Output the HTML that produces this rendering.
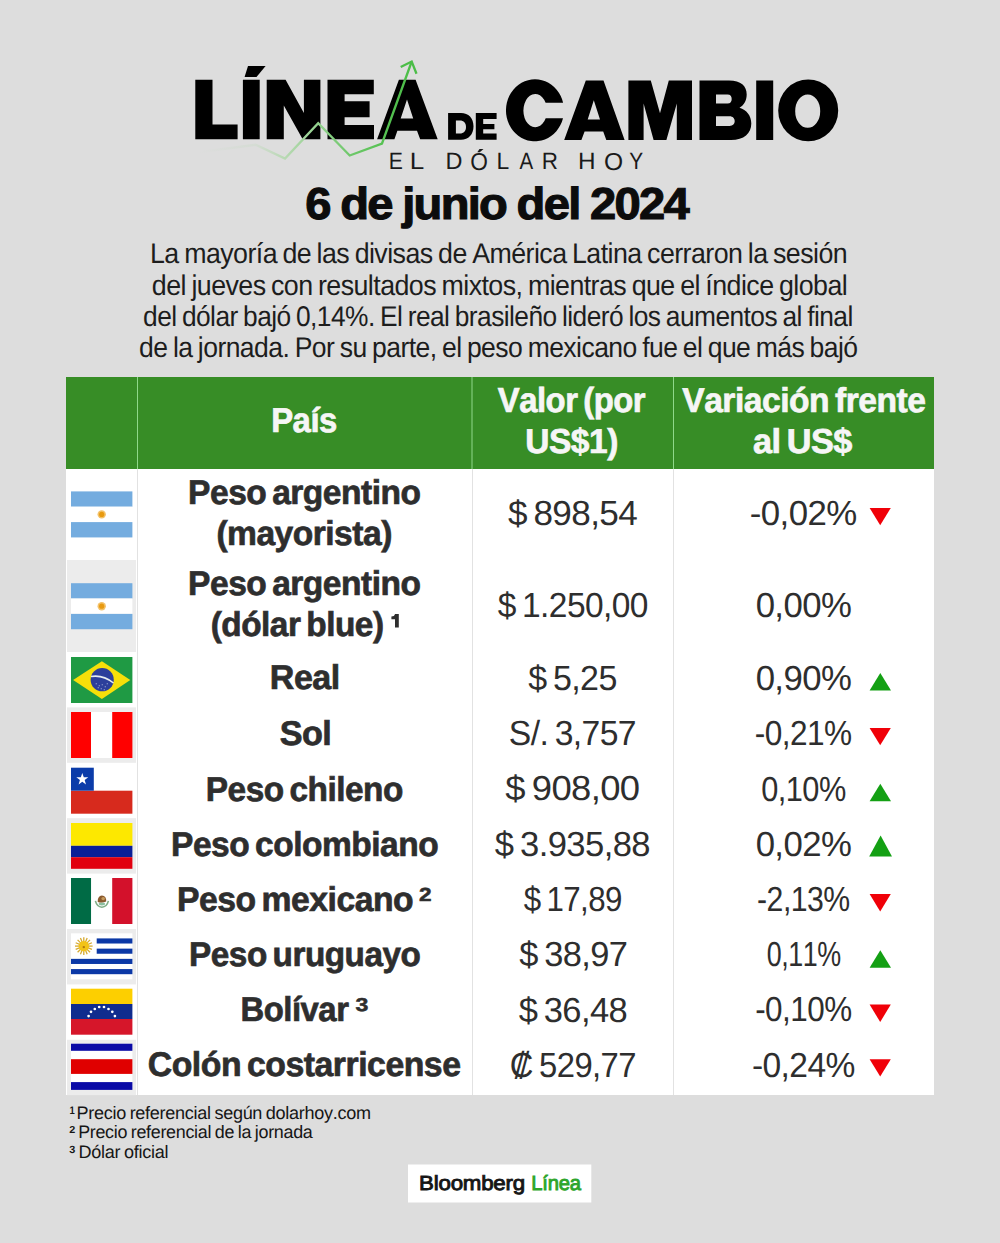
<!DOCTYPE html>
<html><head><meta charset="utf-8"><title>Línea de Cambio</title>
<style>
html,body{margin:0;padding:0;background:#dddddd;}
svg{display:block;font-family:"Liberation Sans",sans-serif;font-kerning:none;text-rendering:geometricPrecision;}
</style></head><body>
<svg width="1000" height="1243" viewBox="0 0 1000 1243">
<rect width="1000" height="1243" fill="#dddddd"/>
<polygon points="195.3,79.8 212.5,79.8 212.5,124.4 237.6,124.4 237.6,139.3 195.3,139.3" fill="#000000"/>
<polygon points="242.9,79.8 259.7,79.8 259.7,139.3 242.9,139.3" fill="#000000"/>
<polygon points="248,65.9 265.6,65.9 256.5,77.1 244.6,77.1" fill="#000000"/>
<polygon points="266.7,79.8 285.6,79.8 303.9,113.1 303.9,79.8 320.4,79.8 320.4,139.3 302.7,139.3 283.8,105.6 283.8,139.3 266.7,139.3" fill="#000000"/>
<polygon points="327.5,79.8 373.8,79.8 373.8,94.2 344.6,94.2 344.6,101.3 369.6,101.3 369.6,117.2 344.6,117.2 344.6,124.9 374.0,124.9 374.0,139.3 327.5,139.3" fill="#000000"/>
<path fill-rule="evenodd" fill="#000000" d="M398.9,79.8 L415.6,79.8 L437.7,139.3 L420.2,139.3 L417.0,130.8 L397.4,130.8 L394.4,139.3 L377.1,139.3 Z M407,99.4 L413.2,118.4 L400.7,118.4 Z"/>
<path fill-rule="evenodd" fill="#000000" d="M563.1,102.8 A29 31 0 1 0 563.0,118.2 L545.7,118.2 A11.8 16.6 0 1 1 545.6,102.8 Z"/>
<path fill-rule="evenodd" fill="#000000" d="M585.8,80.6 L603.5,80.6 L624.6,140 L606.3,140 L603.2,131.6 L584.6,131.6 L581.4,140 L564.2,140 Z M593.8,100.3 L600.0,119.6 L587.7,119.6 Z"/>
<polygon points="628.4,80.6 650.8,80.6 660,113.2 668.8,80.6 692,80.6 692,140 676.8,140 676.8,103.6 666.4,140 653.6,140 643.6,103.6 643.6,140 628.4,140" fill="#000000"/>
<path fill-rule="evenodd" fill="#000000" d="M699.5,80.6 L729,80.6 C741,80.6 746.7,86 746.7,94.5 C746.7,101 743.5,105.5 739.5,107.8 C746.5,110 751.3,115.5 751.3,123.5 C751.3,133.5 744,140 731,140 L699.5,140 Z M716,94.5 L727.5,94.5 C730.5,94.5 731.7,96.5 731.7,99 C731.7,101.5 730.5,103.5 727.5,103.5 L716,103.5 Z M716,116.2 L729.5,116.2 C733,116.2 734.7,118.5 734.7,121.1 C734.7,123.8 733,126 729.5,126 L716,126 Z"/>
<polygon points="756.2,80.6 773.2,80.6 773.2,140 756.2,140" fill="#000000"/>
<path fill-rule="evenodd" fill="#000000" d="M778.2,110.4 A30 30.9 0 1 0 838.2,110.4 A30 30.9 0 1 0 778.2,110.4 Z M795.2,111.15 A12.5 16.65 0 1 0 820.2,111.15 A12.5 16.65 0 1 0 795.2,111.15 Z"/>
<path fill-rule="evenodd" fill="#000000" d="M448.1,112.9 L461,112.9 C468.5,112.9 473.5,118 473.5,126.35 C473.5,134.7 468.5,139.8 461,139.8 L448.1,139.8 Z M455.9,120.4 L459.8,120.4 C463.8,120.4 466,122.8 466,126.9 C466,131 463.8,133.4 459.8,133.4 L455.9,133.4 Z"/>
<polygon points="475.8,112.9 496.6,112.9 496.6,119.1 483.2,119.1 483.2,123.9 494.4,123.9 494.4,129.3 483.2,129.3 483.2,133.5 496.6,133.5 496.6,139.8 475.8,139.8" fill="#000000"/>
<g id="sub"></g>
<text x="388.66" y="169.30" font-size="23.55" font-weight="normal" textLength="14.15" lengthAdjust="spacingAndGlyphs" fill="#1a1a1a">E</text>
<text x="409.86" y="169.30" font-size="23.55" font-weight="normal" textLength="14.51" lengthAdjust="spacingAndGlyphs" fill="#1a1a1a">L</text>
<text x="445.47" y="169.30" font-size="23.55" font-weight="normal" textLength="16.95" lengthAdjust="spacingAndGlyphs" fill="#1a1a1a">D</text>
<text x="470.32" y="169.60" font-size="24.42" font-weight="normal" textLength="17.66" lengthAdjust="spacingAndGlyphs" fill="#1a1a1a">O</text>
<polygon points="479.5,149 483.5,149 479.8,152.2 477.3,152.2" fill="#1a1a1a"/>
<text x="496.52" y="169.30" font-size="23.55" font-weight="normal" textLength="12.74" lengthAdjust="spacingAndGlyphs" fill="#1a1a1a">L</text>
<text x="519.46" y="169.30" font-size="23.55" font-weight="normal" textLength="13.68" lengthAdjust="spacingAndGlyphs" fill="#1a1a1a">A</text>
<text x="541.76" y="169.30" font-size="23.55" font-weight="normal" textLength="16.18" lengthAdjust="spacingAndGlyphs" fill="#1a1a1a">R</text>
<text x="578.00" y="169.30" font-size="23.55" font-weight="normal" textLength="17.58" lengthAdjust="spacingAndGlyphs" fill="#1a1a1a">H</text>
<text x="604.03" y="169.60" font-size="24.42" font-weight="normal" textLength="19.14" lengthAdjust="spacingAndGlyphs" fill="#1a1a1a">O</text>
<text x="629.24" y="169.30" font-size="23.55" font-weight="normal" textLength="13.92" lengthAdjust="spacingAndGlyphs" fill="#1a1a1a">Y</text>
<defs><linearGradient id="lg" gradientUnits="userSpaceOnUse" x1="200" y1="0" x2="412" y2="0">
<stop offset="0" stop-color="#dddddd"/>
<stop offset="0.26" stop-color="#d5dcd4"/>
<stop offset="0.40" stop-color="#b8d9b3"/>
<stop offset="0.55" stop-color="#93d18e"/>
<stop offset="0.70" stop-color="#70c86c"/>
<stop offset="0.85" stop-color="#58c254"/>
<stop offset="1" stop-color="#4bbd47"/></linearGradient></defs>
<polyline points="200,152 255.6,144.8 285,158.6 318.2,123.2 349.7,155.5 382,143.5 411.7,61.5" fill="none" stroke="url(#lg)" stroke-width="2.3" stroke-linejoin="miter"/>
<polyline points="400.7,67 411.7,61.5 416.5,73.75" fill="none" stroke="#4bbd47" stroke-width="2.3" stroke-linejoin="miter"/>
<text x="305.32" y="218.65" font-size="44.62" font-weight="bold" textLength="382.69" lengthAdjust="spacingAndGlyphs" fill="#0c0c0c" stroke="#0c0c0c" stroke-width="1.10" stroke-linejoin="miter" stroke-miterlimit="3" word-spacing="-1" letter-spacing="-1.6">6 de junio del 2024</text>
<text x="150.00" y="263.40" font-size="28.49" font-weight="normal" textLength="697.07" lengthAdjust="spacingAndGlyphs" fill="#1d1d1d" word-spacing="-1.5" letter-spacing="-0.6">La mayoría de las divisas de América Latina cerraron la sesión</text>
<text x="151.87" y="294.80" font-size="28.49" font-weight="normal" textLength="695.25" lengthAdjust="spacingAndGlyphs" fill="#1d1d1d" word-spacing="-1.5" letter-spacing="-0.6">del jueves con resultados mixtos, mientras que el índice global</text>
<text x="143.09" y="326.00" font-size="28.49" font-weight="normal" textLength="709.61" lengthAdjust="spacingAndGlyphs" fill="#1d1d1d" word-spacing="-1.5" letter-spacing="-0.6">del dólar bajó 0,14%. El real brasileño lideró los aumentos al final</text>
<text x="139.09" y="357.20" font-size="28.49" font-weight="normal" textLength="718.47" lengthAdjust="spacingAndGlyphs" fill="#1d1d1d" word-spacing="-1.5" letter-spacing="-0.6">de la jornada. Por su parte, el peso mexicano fue el que más bajó</text>
<rect x="66" y="377" width="868" height="718" fill="#ffffff"/>
<rect x="66" y="377" width="868" height="92" fill="#378d26"/>
<rect x="67" y="560.0" width="69" height="92.0" fill="#ececec"/>
<rect x="67" y="707.4" width="69" height="55.4" fill="#ececec"/>
<rect x="67" y="818.2" width="69" height="55.4" fill="#ececec"/>
<rect x="67" y="929.0" width="69" height="55.4" fill="#ececec"/>
<rect x="67" y="1039.8" width="69" height="55.4" fill="#ececec"/>
<rect x="137" y="377" width="1" height="92" fill="#8fd88a"/>
<rect x="471.5" y="377" width="1" height="92" fill="#8fd88a"/>
<rect x="673" y="377" width="1" height="92" fill="#8fd88a"/>
<rect x="137" y="469" width="1" height="626" fill="#e2e2e2"/>
<rect x="472" y="469" width="1" height="626" fill="#e2e2e2"/>
<rect x="673" y="469" width="1" height="626" fill="#e2e2e2"/>
<rect x="71" y="491.4" width="61.4" height="15.33" fill="#74acdf"/>
<rect x="71" y="506.7" width="61.4" height="15.33" fill="#ffffff"/>
<rect x="71" y="522.1" width="61.4" height="15.33" fill="#74acdf"/>
<circle cx="101.7" cy="514.4" r="4.2" fill="#f3c26a"/>
<circle cx="101.7" cy="514.4" r="2.6" fill="#e89a10"/>
<rect x="71" y="583.2" width="61.4" height="15.33" fill="#74acdf"/>
<rect x="71" y="598.5" width="61.4" height="15.33" fill="#ffffff"/>
<rect x="71" y="613.9" width="61.4" height="15.33" fill="#74acdf"/>
<circle cx="101.7" cy="606.2" r="4.2" fill="#f3c26a"/>
<circle cx="101.7" cy="606.2" r="2.6" fill="#e89a10"/>
<rect x="71" y="657.0" width="61.4" height="46" fill="#1f9a44"/>
<polygon points="73.1,680.0 101.9,661.2 130.3,680.0 101.9,698.9" fill="#f6df0a"/>
<circle cx="102.2" cy="679.7" r="11.6" fill="#2c3f9b"/>
<path d="M91,676.5 Q103,674.5 113.5,683.0" stroke="#e8eef0" stroke-width="1.6" fill="none"/>
<circle cx="96.2" cy="683.7" r="0.5" fill="#dfe6f5"/>
<circle cx="99.2" cy="685.7" r="0.5" fill="#dfe6f5"/>
<circle cx="102.2" cy="684.7" r="0.5" fill="#dfe6f5"/>
<circle cx="105.2" cy="686.7" r="0.5" fill="#dfe6f5"/>
<circle cx="107.2" cy="683.7" r="0.5" fill="#dfe6f5"/>
<circle cx="101.2" cy="688.7" r="0.5" fill="#dfe6f5"/>
<circle cx="104.2" cy="689.7" r="0.5" fill="#dfe6f5"/>
<circle cx="98.2" cy="687.7" r="0.5" fill="#dfe6f5"/>
<rect x="71" y="712.0" width="61.4" height="46" fill="#ff0000"/>
<rect x="91" y="712.0" width="21.2" height="46" fill="#ffffff"/>
<rect x="71" y="767.7" width="61.4" height="46" fill="#ffffff"/>
<rect x="71" y="790.7" width="61.4" height="23" fill="#d72a1d"/>
<rect x="71" y="767.7" width="22.8" height="23" fill="#0b3ca9"/>
<polygon points="82.30,773.00 83.77,777.28 88.29,777.35 84.68,780.07 86.00,784.40 82.30,781.80 78.60,784.40 79.92,780.07 76.31,777.35 80.83,777.28" fill="#ffffff"/>
<rect x="71" y="823.0" width="61.4" height="22.8" fill="#fde800"/>
<rect x="71" y="845.8" width="61.4" height="11.4" fill="#0a1f97"/>
<rect x="71" y="857.2" width="61.4" height="11.6" fill="#e1000f"/>
<rect x="71" y="878.0" width="20.2" height="46" fill="#006b45"/>
<rect x="91.2" y="878.0" width="21" height="46" fill="#ffffff"/>
<rect x="112.2" y="878.0" width="20.2" height="46" fill="#d3112b"/>
<path d="M95.4,900.9 Q96.9,906.9 101.9,907.2 Q106.9,906.9 108.4,900.9" fill="none" stroke="#7fae86" stroke-width="1.6"/>
<ellipse cx="101.9" cy="904.0" rx="3.2" ry="1.4" fill="#8cc0a0"/>
<path d="M97.7,901.9 Q97.4,895.9 101.9,895.4 Q106.7,895.9 106.2,901.6 Q101.9,903.2 97.7,901.9 Z" fill="#8a5a2e"/>
<ellipse cx="103.2" cy="898.6" rx="1.8" ry="1.6" fill="#c69a5c"/>
<rect x="71" y="933.3" width="61.4" height="46" fill="#ffffff"/>
<rect x="96.7" y="938.41" width="35.7" height="5.11" fill="#0b38a6"/>
<rect x="96.7" y="948.63" width="35.7" height="5.11" fill="#0b38a6"/>
<rect x="71" y="958.86" width="61.4" height="5.11" fill="#0b38a6"/>
<rect x="71" y="969.08" width="61.4" height="5.11" fill="#0b38a6"/>
<line x1="83.80" y1="946.10" x2="92.60" y2="946.10" stroke="#d6aa30" stroke-width="1.3"/>
<line x1="83.80" y1="946.10" x2="91.93" y2="949.47" stroke="#d6aa30" stroke-width="1.3"/>
<line x1="83.80" y1="946.10" x2="90.02" y2="952.32" stroke="#d6aa30" stroke-width="1.3"/>
<line x1="83.80" y1="946.10" x2="87.17" y2="954.23" stroke="#d6aa30" stroke-width="1.3"/>
<line x1="83.80" y1="946.10" x2="83.80" y2="954.90" stroke="#d6aa30" stroke-width="1.3"/>
<line x1="83.80" y1="946.10" x2="80.43" y2="954.23" stroke="#d6aa30" stroke-width="1.3"/>
<line x1="83.80" y1="946.10" x2="77.58" y2="952.32" stroke="#d6aa30" stroke-width="1.3"/>
<line x1="83.80" y1="946.10" x2="75.67" y2="949.47" stroke="#d6aa30" stroke-width="1.3"/>
<line x1="83.80" y1="946.10" x2="75.00" y2="946.10" stroke="#d6aa30" stroke-width="1.3"/>
<line x1="83.80" y1="946.10" x2="75.67" y2="942.73" stroke="#d6aa30" stroke-width="1.3"/>
<line x1="83.80" y1="946.10" x2="77.58" y2="939.88" stroke="#d6aa30" stroke-width="1.3"/>
<line x1="83.80" y1="946.10" x2="80.43" y2="937.97" stroke="#d6aa30" stroke-width="1.3"/>
<line x1="83.80" y1="946.10" x2="83.80" y2="937.30" stroke="#d6aa30" stroke-width="1.3"/>
<line x1="83.80" y1="946.10" x2="87.17" y2="937.97" stroke="#d6aa30" stroke-width="1.3"/>
<line x1="83.80" y1="946.10" x2="90.02" y2="939.88" stroke="#d6aa30" stroke-width="1.3"/>
<line x1="83.80" y1="946.10" x2="91.93" y2="942.73" stroke="#d6aa30" stroke-width="1.3"/>
<circle cx="83.8" cy="946.1" r="5.2" fill="#f2c318"/>
<circle cx="83.8" cy="947.1" r="1.2" fill="#b07a10"/>
<rect x="71" y="988.7" width="61.4" height="15.3" fill="#fdcf00"/>
<rect x="71" y="1004.0" width="61.4" height="15" fill="#102c8e"/>
<rect x="71" y="1019.0" width="61.4" height="15.7" fill="#d6162a"/>
<circle cx="88.6" cy="1016.1" r="1.35" fill="#ffffff"/>
<circle cx="91" cy="1011.8" r="1.35" fill="#ffffff"/>
<circle cx="94.8" cy="1009.0" r="1.35" fill="#ffffff"/>
<circle cx="99.2" cy="1007.0" r="1.35" fill="#ffffff"/>
<circle cx="104" cy="1007.0" r="1.35" fill="#ffffff"/>
<circle cx="108.5" cy="1009.0" r="1.35" fill="#ffffff"/>
<circle cx="112.3" cy="1011.8" r="1.35" fill="#ffffff"/>
<circle cx="114.9" cy="1016.1" r="1.35" fill="#ffffff"/>
<rect x="71" y="1043.7" width="61.4" height="46.2" fill="#ffffff"/>
<rect x="71" y="1043.7" width="61.4" height="7.1" fill="#0a0aa6"/>
<rect x="71" y="1059.2" width="61.4" height="14.7" fill="#e00000"/>
<rect x="71" y="1082.1" width="61.4" height="7.8" fill="#0a0aa6"/>
<text x="271.15" y="432.45" font-size="34.45" font-weight="bold" textLength="65.77" lengthAdjust="spacingAndGlyphs" fill="#f6f6f6" stroke="#f6f6f6" stroke-width="0.70" stroke-linejoin="miter" stroke-miterlimit="3" word-spacing="-3" letter-spacing="-0.5">País</text>
<text x="497.73" y="412.45" font-size="34.74" font-weight="bold" textLength="147.45" lengthAdjust="spacingAndGlyphs" fill="#f6f6f6" stroke="#f6f6f6" stroke-width="0.70" stroke-linejoin="miter" stroke-miterlimit="3" word-spacing="-3" letter-spacing="-0.5">Valor (por</text>
<text x="525.34" y="452.85" font-size="34.45" font-weight="bold" textLength="92.49" lengthAdjust="spacingAndGlyphs" fill="#f6f6f6" stroke="#f6f6f6" stroke-width="0.70" stroke-linejoin="miter" stroke-miterlimit="3" word-spacing="-3" letter-spacing="-0.5">US$1)</text>
<text x="682.22" y="412.25" font-size="34.45" font-weight="bold" textLength="243.19" lengthAdjust="spacingAndGlyphs" fill="#f6f6f6" stroke="#f6f6f6" stroke-width="0.70" stroke-linejoin="miter" stroke-miterlimit="3" word-spacing="-3" letter-spacing="-0.5">Variación frente</text>
<text x="753.05" y="453.05" font-size="34.45" font-weight="bold" textLength="98.79" lengthAdjust="spacingAndGlyphs" fill="#f6f6f6" stroke="#f6f6f6" stroke-width="0.70" stroke-linejoin="miter" stroke-miterlimit="3" word-spacing="-3" letter-spacing="-0.5">al US$</text>
<text x="188.11" y="504.25" font-size="34.30" font-weight="bold" textLength="232.36" lengthAdjust="spacingAndGlyphs" fill="#2e2e2e" stroke="#2e2e2e" stroke-width="0.70" stroke-linejoin="miter" stroke-miterlimit="3" word-spacing="-3" letter-spacing="-0.5">Peso argentino</text>
<text x="216.38" y="544.65" font-size="34.30" font-weight="bold" textLength="175.45" lengthAdjust="spacingAndGlyphs" fill="#2e2e2e" stroke="#2e2e2e" stroke-width="0.70" stroke-linejoin="miter" stroke-miterlimit="3" word-spacing="-3" letter-spacing="-0.5">(mayorista)</text>
<text x="188.11" y="595.45" font-size="34.30" font-weight="bold" textLength="232.36" lengthAdjust="spacingAndGlyphs" fill="#2e2e2e" stroke="#2e2e2e" stroke-width="0.70" stroke-linejoin="miter" stroke-miterlimit="3" word-spacing="-3" letter-spacing="-0.5">Peso argentino</text>
<text x="210.69" y="636.25" font-size="34.30" font-weight="bold" textLength="172.84" lengthAdjust="spacingAndGlyphs" fill="#2e2e2e" stroke="#2e2e2e" stroke-width="0.70" stroke-linejoin="miter" stroke-miterlimit="3" word-spacing="-3" letter-spacing="-0.5">(dólar blue)</text>
<text x="269.87" y="689.45" font-size="34.30" font-weight="bold" textLength="69.89" lengthAdjust="spacingAndGlyphs" fill="#2e2e2e" stroke="#2e2e2e" stroke-width="0.70" stroke-linejoin="miter" stroke-miterlimit="3" word-spacing="-3" letter-spacing="-0.5">Real</text>
<text x="279.66" y="744.85" font-size="34.30" font-weight="bold" textLength="51.71" lengthAdjust="spacingAndGlyphs" fill="#2e2e2e" stroke="#2e2e2e" stroke-width="0.70" stroke-linejoin="miter" stroke-miterlimit="3" word-spacing="-3" letter-spacing="-0.5">Sol</text>
<text x="205.82" y="800.55" font-size="34.30" font-weight="bold" textLength="197.05" lengthAdjust="spacingAndGlyphs" fill="#2e2e2e" stroke="#2e2e2e" stroke-width="0.70" stroke-linejoin="miter" stroke-miterlimit="3" word-spacing="-3" letter-spacing="-0.5">Peso chileno</text>
<text x="171.11" y="855.65" font-size="34.30" font-weight="bold" textLength="267.06" lengthAdjust="spacingAndGlyphs" fill="#2e2e2e" stroke="#2e2e2e" stroke-width="0.70" stroke-linejoin="miter" stroke-miterlimit="3" word-spacing="-3" letter-spacing="-0.5">Peso colombiano</text>
<text x="177.10" y="911.05" font-size="34.30" font-weight="bold" textLength="236.08" lengthAdjust="spacingAndGlyphs" fill="#2e2e2e" stroke="#2e2e2e" stroke-width="0.70" stroke-linejoin="miter" stroke-miterlimit="3" word-spacing="-3" letter-spacing="-0.5">Peso mexicano</text>
<text x="189.12" y="965.65" font-size="34.30" font-weight="bold" textLength="231.24" lengthAdjust="spacingAndGlyphs" fill="#2e2e2e" stroke="#2e2e2e" stroke-width="0.70" stroke-linejoin="miter" stroke-miterlimit="3" word-spacing="-3" letter-spacing="-0.5">Peso uruguayo</text>
<text x="240.45" y="1021.05" font-size="34.30" font-weight="bold" textLength="108.02" lengthAdjust="spacingAndGlyphs" fill="#2e2e2e" stroke="#2e2e2e" stroke-width="0.70" stroke-linejoin="miter" stroke-miterlimit="3" word-spacing="-3" letter-spacing="-0.5">Bolívar</text>
<text x="147.76" y="1076.35" font-size="34.30" font-weight="bold" textLength="312.75" lengthAdjust="spacingAndGlyphs" fill="#2e2e2e" stroke="#2e2e2e" stroke-width="0.70" stroke-linejoin="miter" stroke-miterlimit="3" word-spacing="-3" letter-spacing="-0.5">Colón costarricense</text>
<path fill="#2e2e2e" d="M395.0,614.1 L398.8,614.1 L398.8,627.4 L395.0,627.4 L395.0,619.2 L391.4,619.2 L391.4,616.6 C393.4,616.6 394.7,615.8 395.0,614.1 Z"/>
<text x="419.07" y="900.75" font-size="18.90" font-weight="bold" textLength="12.59" lengthAdjust="spacingAndGlyphs" fill="#2e2e2e" stroke="#2e2e2e" stroke-width="0.50" stroke-linejoin="miter" stroke-miterlimit="3">2</text>
<text x="355.42" y="1011.45" font-size="18.75" font-weight="bold" textLength="12.87" lengthAdjust="spacingAndGlyphs" fill="#2e2e2e" stroke="#2e2e2e" stroke-width="0.50" stroke-linejoin="miter" stroke-miterlimit="3">3</text>
<text x="507.92" y="525.00" font-size="34.88" font-weight="normal" textLength="129.30" lengthAdjust="spacingAndGlyphs" fill="#2e2e2e" word-spacing="-2.5" letter-spacing="-0.6">$ 898,54</text>
<text x="497.64" y="617.30" font-size="34.88" font-weight="normal" textLength="150.29" lengthAdjust="spacingAndGlyphs" fill="#2e2e2e" word-spacing="-2.5" letter-spacing="-0.6">$ 1.250,00</text>
<text x="528.13" y="690.20" font-size="34.88" font-weight="normal" textLength="88.61" lengthAdjust="spacingAndGlyphs" fill="#2e2e2e" word-spacing="-2.5" letter-spacing="-0.6">$ 5,25</text>
<text x="508.87" y="744.60" font-size="34.88" font-weight="normal" textLength="127.14" lengthAdjust="spacingAndGlyphs" fill="#2e2e2e" word-spacing="-2.5" letter-spacing="-0.6">S/. 3,757</text>
<text x="505.31" y="800.40" font-size="34.88" font-weight="normal" textLength="134.19" lengthAdjust="spacingAndGlyphs" fill="#2e2e2e" word-spacing="-2.5" letter-spacing="-0.6">$ 908,00</text>
<text x="494.83" y="855.60" font-size="34.88" font-weight="normal" textLength="155.18" lengthAdjust="spacingAndGlyphs" fill="#2e2e2e" word-spacing="-2.5" letter-spacing="-0.6">$ 3.935,88</text>
<text x="523.66" y="910.90" font-size="34.88" font-weight="normal" textLength="98.28" lengthAdjust="spacingAndGlyphs" fill="#2e2e2e" word-spacing="-2.5" letter-spacing="-0.6">$ 17,89</text>
<text x="519.13" y="966.20" font-size="34.88" font-weight="normal" textLength="108.31" lengthAdjust="spacingAndGlyphs" fill="#2e2e2e" word-spacing="-2.5" letter-spacing="-0.6">$ 38,97</text>
<text x="518.63" y="1022.00" font-size="34.88" font-weight="normal" textLength="108.58" lengthAdjust="spacingAndGlyphs" fill="#2e2e2e" word-spacing="-2.5" letter-spacing="-0.6">$ 36,48</text>
<text x="509.73" y="1076.80" font-size="34.88" font-weight="normal" textLength="126.25" lengthAdjust="spacingAndGlyphs" fill="#2e2e2e" word-spacing="-2.5" letter-spacing="-0.6">₡ 529,77</text>
<text x="749.85" y="525.00" font-size="34.88" font-weight="normal" textLength="106.79" lengthAdjust="spacingAndGlyphs" fill="#2e2e2e" letter-spacing="-0.6">-0,02%</text>
<polygon points="869.6,507.9 890.8,507.9 880.2,525.3" fill="#f00008"/>
<text x="755.64" y="616.80" font-size="34.88" font-weight="normal" textLength="95.60" lengthAdjust="spacingAndGlyphs" fill="#2e2e2e" letter-spacing="-0.6">0,00%</text>
<text x="755.64" y="690.10" font-size="34.88" font-weight="normal" textLength="95.60" lengthAdjust="spacingAndGlyphs" fill="#2e2e2e" letter-spacing="-0.6">0,90%</text>
<polygon points="880.3,673.0 891,690.6 869.6,690.6" fill="#14a014"/>
<text x="754.70" y="745.00" font-size="34.88" font-weight="normal" textLength="96.89" lengthAdjust="spacingAndGlyphs" fill="#2e2e2e" letter-spacing="-0.6">-0,21%</text>
<polygon points="869.6,727.9 890.8,727.9 880.2,745.3" fill="#f00008"/>
<text x="761.20" y="800.80" font-size="34.88" font-weight="normal" textLength="84.57" lengthAdjust="spacingAndGlyphs" fill="#2e2e2e" letter-spacing="-0.6">0,10%</text>
<polygon points="880.3,783.7 891,801.3 869.6,801.3" fill="#14a014"/>
<text x="755.64" y="855.70" font-size="34.88" font-weight="normal" textLength="95.60" lengthAdjust="spacingAndGlyphs" fill="#2e2e2e" letter-spacing="-0.6">0,02%</text>
<polygon points="880.6,835.6 892,856.6 869.2,856.6" fill="#14a014"/>
<text x="757.06" y="911.30" font-size="34.88" font-weight="normal" textLength="92.70" lengthAdjust="spacingAndGlyphs" fill="#2e2e2e" letter-spacing="-0.6">-2,13%</text>
<polygon points="869.6,894.0 890.8,894.0 880.2,911.4" fill="#f00008"/>
<text x="766.75" y="965.90" font-size="34.88" font-weight="normal" textLength="73.95" lengthAdjust="spacingAndGlyphs" fill="#2e2e2e" letter-spacing="-0.6">0,11%</text>
<polygon points="880.3,950.2 891,967.8 869.6,967.8" fill="#14a014"/>
<text x="755.20" y="1021.40" font-size="34.88" font-weight="normal" textLength="96.38" lengthAdjust="spacingAndGlyphs" fill="#2e2e2e" letter-spacing="-0.6">-0,10%</text>
<polygon points="869.6,1004.6 890.8,1004.6 880.2,1022.0" fill="#f00008"/>
<text x="751.91" y="1076.50" font-size="34.88" font-weight="normal" textLength="102.91" lengthAdjust="spacingAndGlyphs" fill="#2e2e2e" letter-spacing="-0.6">-0,24%</text>
<polygon points="869.6,1059.2 890.8,1059.2 880.2,1076.6" fill="#f00008"/>
<text x="76.52" y="1119.20" font-size="18.02" font-weight="normal" textLength="294.17" lengthAdjust="spacingAndGlyphs" fill="#161616" word-spacing="-1" letter-spacing="-0.3">Precio referencial según dolarhoy.com</text>
<text x="78.13" y="1138.40" font-size="18.02" font-weight="normal" textLength="234.37" lengthAdjust="spacingAndGlyphs" fill="#161616" word-spacing="-1" letter-spacing="-0.3">Precio referencial de la jornada</text>
<text x="78.52" y="1157.60" font-size="18.02" font-weight="normal" textLength="89.59" lengthAdjust="spacingAndGlyphs" fill="#161616" word-spacing="-1" letter-spacing="-0.3">Dólar oficial</text>
<text x="69.40" y="1114.40" font-size="11.05" font-weight="bold" textLength="5.26" lengthAdjust="spacingAndGlyphs" fill="#161616">1</text>
<text x="69.23" y="1133.40" font-size="10.17" font-weight="bold" textLength="6.01" lengthAdjust="spacingAndGlyphs" fill="#161616">2</text>
<text x="69.35" y="1153.00" font-size="10.47" font-weight="bold" textLength="6.04" lengthAdjust="spacingAndGlyphs" fill="#161616">3</text>
<rect x="408" y="1164.5" width="183.3" height="38" fill="#ffffff"/>
<text x="419.12" y="1189.55" font-size="20.49" font-weight="normal" textLength="105.75" lengthAdjust="spacingAndGlyphs" fill="#151515" stroke="#151515" stroke-width="0.90" stroke-linejoin="miter" stroke-miterlimit="3" letter-spacing="-0.2">Bloomberg</text>
<text x="531.29" y="1189.55" font-size="20.49" font-weight="normal" textLength="49.56" lengthAdjust="spacingAndGlyphs" fill="#2da52b" stroke="#2da52b" stroke-width="0.90" stroke-linejoin="miter" stroke-miterlimit="3" letter-spacing="-0.2">Línea</text>
</svg>
</body></html>
